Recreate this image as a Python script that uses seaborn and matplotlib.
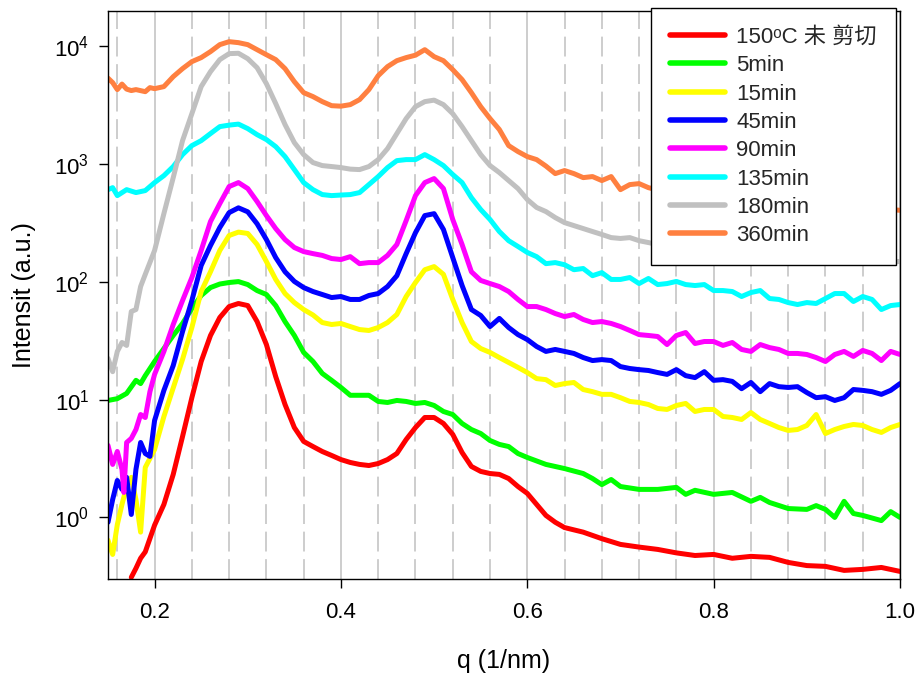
import numpy as np
import pandas as pd
import matplotlib
matplotlib.use("Agg")
import matplotlib.pyplot as plt
import seaborn as sns
from matplotlib.ticker import FixedLocator, MultipleLocator, LogLocator, NullLocator

# ---------------- data ----------------
labels = ["150\u1d52C 未 剪切", "5min", "15min", "45min", "90min", "135min", "180min", "360min"]
colors = ["#ff0000", "#00ff00", "#ffff00", "#0000ff", "#ff00ff", "#00ffff", "#c0c0c0", "#ff8040"]

q_red = [0.175, 0.18, 0.185, 0.19, 0.20, 0.21, 0.22, 0.23, 0.24, 0.25, 0.26, 0.27, 0.28, 0.29,
         0.30, 0.31, 0.32, 0.33, 0.34, 0.35, 0.36, 0.37, 0.38, 0.39, 0.40, 0.41, 0.42, 0.43, 0.44,
         0.45, 0.46, 0.47, 0.48, 0.49, 0.50, 0.51, 0.52, 0.53, 0.54, 0.55, 0.56, 0.57, 0.58, 0.59,
         0.60, 0.61, 0.62, 0.63, 0.64, 0.66, 0.68, 0.70, 0.72, 0.74, 0.76, 0.78, 0.80, 0.82, 0.84,
         0.86, 0.88, 0.90, 0.92, 0.94, 0.96, 0.98, 1.00]
i_red = [0.31, 0.37, 0.45, 0.51, 0.86, 1.29, 2.32, 4.87, 10.4, 21.1, 35.1, 49.9, 61.8, 65.6,
         63, 46.1, 29.4, 15.7, 9.1, 5.8, 4.42, 4.0, 3.63, 3.36, 3.1, 2.93, 2.82, 2.76, 2.87,
         3.1, 3.49, 4.59, 5.8, 7.06, 7.06, 6.28, 5.07, 3.56, 2.71, 2.46, 2.36, 2.32, 2.14, 1.83,
         1.6, 1.29, 1.04, 0.91, 0.82, 0.75, 0.66, 0.59, 0.56, 0.535, 0.50, 0.475, 0.485, 0.45, 0.467,
         0.458, 0.415, 0.39, 0.384, 0.355, 0.362, 0.376, 0.348]

q_green = [0.15, 0.16, 0.17, 0.18, 0.185, 0.19, 0.20, 0.21, 0.22, 0.23, 0.24, 0.25, 0.26, 0.27,
           0.28, 0.29, 0.30, 0.31, 0.32, 0.33, 0.34, 0.35, 0.36, 0.37, 0.38, 0.39, 0.40, 0.41,
           0.42, 0.43, 0.44, 0.45, 0.46, 0.47, 0.48, 0.49, 0.50, 0.51, 0.52, 0.53, 0.54, 0.55,
           0.56, 0.57, 0.58, 0.59, 0.60, 0.62, 0.64, 0.66, 0.67, 0.68, 0.69, 0.70, 0.72, 0.74,
           0.76, 0.77, 0.78, 0.80, 0.82, 0.84, 0.85, 0.86, 0.88, 0.90, 0.91, 0.92, 0.93, 0.94,
           0.95, 0.96, 0.98, 0.99, 1.00]
i_green = [9.85, 10.2, 11.3, 14.6, 13.7, 16.0, 21.1, 27.2, 35.1, 44.4, 59.4, 76.7, 89.6, 96,
           98.9, 100.7, 95, 84.5, 78.2, 63, 46, 35.1, 25.2, 21.1, 16.7, 14.6, 12.7, 10.9,
           10.9, 10.9, 9.66, 9.47, 9.85, 9.66, 9.29, 9.47, 8.93, 7.94, 7.48, 6.28, 5.58, 5.16,
           4.5, 4.17, 4.0, 3.49, 3.23, 2.82, 2.6, 2.36, 2.14, 1.9, 2.1, 1.83, 1.73, 1.73,
           1.80, 1.57, 1.7, 1.57, 1.63, 1.37, 1.48, 1.34, 1.19, 1.17, 1.26, 1.17, 1.0, 1.37,
           1.08, 1.04, 0.94, 1.12, 1.0]

q_yellow = [0.15, 0.155, 0.16, 0.165, 0.17, 0.175, 0.18, 0.185, 0.19,
            0.20, 0.21, 0.22, 0.23, 0.24, 0.25, 0.26, 0.27, 0.28, 0.29,
            0.30, 0.31, 0.32, 0.33, 0.34, 0.35, 0.36, 0.37, 0.38, 0.39,
            0.40, 0.41, 0.42, 0.43, 0.44, 0.45, 0.46, 0.47, 0.48, 0.49,
            0.50, 0.51, 0.52, 0.53, 0.54, 0.55, 0.56, 0.57, 0.58, 0.59,
            0.60, 0.61, 0.62, 0.63, 0.64, 0.65, 0.66, 0.67, 0.68, 0.69,
            0.70, 0.71, 0.72, 0.73, 0.74, 0.75, 0.76, 0.77, 0.78, 0.79,
            0.80, 0.81, 0.82, 0.83, 0.84, 0.85, 0.86, 0.87, 0.88, 0.89,
            0.90, 0.91, 0.92, 0.93, 0.94, 0.95, 0.96, 0.97, 0.98, 0.99, 1.00]
i_yellow = [0.64, 0.485, 0.87, 1.29, 1.83, 2.19, 1.42, 0.75, 2.66,
            3.78, 7.2, 12.6, 22, 41, 82.9, 122, 185, 248, 265,
            258, 208, 149, 105, 79.7, 66.8, 58.3, 52.4, 45.2, 43.5,
            44.4, 41.8, 39.4, 38.7, 41, 45.2, 52.9, 75.2, 98.9, 127,
            135, 116, 71, 45.2, 31.2, 27.2, 25.2, 22.8, 20.7, 18.8,
            17.0, 15.1, 14.8, 13.2, 13.7, 14.0, 12.2, 11.7, 11.1, 11.1,
            10.4, 9.66, 9.47, 9.1, 8.42, 8.26, 8.93, 9.29, 7.94, 8.26,
            8.26, 7.2, 7.06, 6.79, 7.78, 6.79, 6.28, 5.8, 5.48, 5.58,
            6.04, 7.48, 5.16, 5.58, 5.92, 6.16, 6.04, 5.58, 5.27, 5.8, 6.16]

q_blue = [0.15, 0.155, 0.16, 0.165, 0.17, 0.175, 0.18, 0.185, 0.19, 0.195,
          0.20, 0.21, 0.22, 0.23, 0.24, 0.25, 0.26, 0.27, 0.28, 0.29,
          0.30, 0.31, 0.32, 0.33, 0.34, 0.35, 0.36, 0.37, 0.38, 0.39,
          0.40, 0.41, 0.42, 0.43, 0.44, 0.45, 0.46, 0.47, 0.48, 0.49,
          0.50, 0.51, 0.52, 0.53, 0.54, 0.55, 0.56, 0.57, 0.58, 0.59,
          0.60, 0.61, 0.62, 0.63, 0.64, 0.65, 0.66, 0.67, 0.68, 0.69,
          0.70, 0.71, 0.72, 0.73, 0.74, 0.75, 0.76, 0.77, 0.78, 0.79,
          0.80, 0.81, 0.82, 0.83, 0.84, 0.85, 0.86, 0.87, 0.88, 0.89,
          0.90, 0.91, 0.92, 0.93, 0.94, 0.95, 0.96, 0.97, 0.98, 0.99, 1.00]
i_blue = [0.91, 1.42, 2.06, 1.73, 2.19, 1.06, 2.56, 4.33, 3.49, 3.3,
          6.66, 12.0, 19.5, 37.9, 69.5, 138, 204, 290, 388, 426,
          394, 312, 229, 161, 122, 101, 89.6, 82.9, 78.2, 73.7,
          75.2, 71, 71, 76.7, 79.7, 91.4, 113, 174, 262, 366,
          380, 279, 161, 93.3, 58.3, 51.9, 41.8, 49, 41, 35.7,
          32.4, 28.3, 25.7, 26.7, 25.7, 24.7, 22.8, 21.5, 21.9, 21.5,
          19.1, 18.4, 18.0, 17.7, 17.0, 16.4, 18.0, 16.0, 15.4, 17.3,
          14.6, 14.8, 14.3, 12.4, 14.0, 11.7, 13.7, 12.9, 12.7, 12.9,
          11.5, 10.4, 10.6, 9.85, 10.4, 12.2, 12.0, 11.7, 11.1, 12.0, 13.7]

q_magenta = [0.15, 0.155, 0.16, 0.165, 0.167, 0.17, 0.175, 0.18, 0.185, 0.19, 0.195,
             0.20, 0.21, 0.22, 0.23, 0.24, 0.25, 0.26, 0.27, 0.28, 0.29,
             0.30, 0.31, 0.32, 0.33, 0.34, 0.35, 0.36, 0.37, 0.38, 0.39,
             0.40, 0.41, 0.42, 0.43, 0.44, 0.45, 0.46, 0.47, 0.48, 0.49,
             0.50, 0.51, 0.52, 0.53, 0.54, 0.55, 0.56, 0.57, 0.58, 0.59,
             0.60, 0.61, 0.62, 0.63, 0.64, 0.65, 0.66, 0.67, 0.68, 0.69,
             0.70, 0.71, 0.72, 0.73, 0.74, 0.75, 0.76, 0.77, 0.78, 0.79,
             0.80, 0.81, 0.82, 0.83, 0.84, 0.85, 0.86, 0.87, 0.88, 0.89,
             0.90, 0.91, 0.92, 0.93, 0.94, 0.95, 0.96, 0.97, 0.98, 0.99, 1.00]
i_magenta = [4.09, 2.82, 3.63, 2.56, 1.63, 4.33, 4.69, 5.58, 7.48, 7.06, 11.7,
             16.4, 25.7, 43.5, 69.5, 109, 185, 326, 463, 646, 698,
             621, 482, 366, 284, 229, 196, 181, 174, 168, 158,
             155, 164, 143, 146, 146, 168, 208, 332, 541, 698,
             755, 621, 339, 208, 122, 103, 96.9, 91.4, 82.9, 71,
             61.8, 61.8, 58.3, 53.9, 50.8, 52.9, 48, 45.2, 46.1, 44.4,
             41.8, 38.7, 35.7, 35.1, 34.4, 29.4, 35.1, 37.2, 30, 31.2,
             31.2, 28.9, 30.6, 26.7, 25.7, 29.4, 27.7, 26.7, 24.7, 24.7,
             24.2, 22.8, 21.1, 24.2, 25.7, 23.3, 26.2, 24.7, 21.5, 25.7, 24.2]

q_cyan = [0.15, 0.155, 0.16, 0.17, 0.18, 0.19,
          0.20, 0.21, 0.22, 0.23, 0.24, 0.25, 0.26, 0.27, 0.28, 0.29,
          0.30, 0.31, 0.32, 0.33, 0.34, 0.35, 0.36, 0.37, 0.38, 0.39,
          0.40, 0.41, 0.42, 0.43, 0.44, 0.45, 0.46, 0.47, 0.48, 0.49,
          0.50, 0.51, 0.52, 0.53, 0.54, 0.55, 0.56, 0.57, 0.58, 0.59,
          0.60, 0.61, 0.62, 0.63, 0.64, 0.65, 0.66, 0.67, 0.68, 0.69,
          0.70, 0.71, 0.72, 0.73, 0.74, 0.75, 0.76, 0.77, 0.78, 0.79,
          0.80, 0.81, 0.82, 0.83, 0.84, 0.85, 0.86, 0.87, 0.88, 0.89,
          0.90, 0.91, 0.92, 0.93, 0.94, 0.95, 0.96, 0.97, 0.98, 0.99, 1.00]
i_cyan = [608, 632, 541, 608, 574, 597,
          698, 800, 955, 1206, 1438, 1585, 1820, 2085, 2147, 2190,
          2005, 1783, 1618, 1410, 1160, 900, 698, 608, 552, 541,
          547, 552, 574, 671, 785, 936, 1072, 1094, 1094, 1206,
          1094, 973, 817, 698, 520, 412, 339, 268, 224, 200,
          178, 164, 143, 146, 140, 127, 130, 113, 120, 105,
          105, 109, 96.9, 107, 95, 96.9, 101, 95, 93.2, 95,
          84.5, 84.5, 82.9, 75.2, 81.3, 84.5, 72.3, 71, 66.8, 64.3,
          66.8, 65.6, 72.3, 79.7, 79.7, 68.2, 75.2, 71, 58.3, 63, 64.3]

q_gray = [0.15, 0.155, 0.16, 0.165, 0.17, 0.175, 0.18, 0.185, 0.19,
          0.20, 0.21, 0.22, 0.23, 0.24, 0.25, 0.26, 0.27, 0.28, 0.29,
          0.30, 0.31, 0.32, 0.33, 0.34, 0.35, 0.36, 0.37, 0.38, 0.39,
          0.40, 0.41, 0.42, 0.43, 0.44, 0.45, 0.46, 0.47, 0.48, 0.49,
          0.50, 0.51, 0.52, 0.53, 0.54, 0.55, 0.56, 0.57, 0.58, 0.59,
          0.60, 0.61, 0.62, 0.63, 0.64, 0.65, 0.66, 0.67, 0.68, 0.69,
          0.70, 0.71, 0.72, 0.73, 0.74, 0.78, 0.82, 0.86, 0.90, 0.94, 1.00]
i_gray = [22.4, 17.3, 25.7, 30.6, 28.9, 56.1, 58.3, 91.4, 116,
          185, 381, 769, 1585, 2685, 4560, 6110, 7730, 8690, 8750,
          7870, 6600, 4830, 3270, 2170, 1525, 1206, 1032, 973, 955,
          936, 908, 900, 955, 1094, 1356, 1820, 2440, 3080, 3400,
          3500, 3205, 2685, 2085, 1585, 1206, 973, 849, 726, 621,
          501, 429, 396, 352, 319, 301, 284, 268, 253, 238,
          234, 238, 224, 216, 208, 188, 178, 168, 161, 155, 149]

q_orange = [0.15, 0.155, 0.16, 0.165, 0.17, 0.175, 0.18, 0.19, 0.195,
            0.20, 0.21, 0.22, 0.23, 0.24, 0.25, 0.26, 0.27, 0.28, 0.29,
            0.30, 0.31, 0.32, 0.33, 0.34, 0.35, 0.36, 0.37, 0.38, 0.39,
            0.40, 0.41, 0.42, 0.43, 0.44, 0.45, 0.46, 0.47, 0.48, 0.49,
            0.50, 0.51, 0.52, 0.53, 0.54, 0.55, 0.56, 0.57, 0.58, 0.59,
            0.60, 0.61, 0.62, 0.63, 0.64, 0.65, 0.66, 0.67, 0.68, 0.69,
            0.70, 0.71, 0.72, 0.73, 0.76, 0.80, 0.84, 0.88, 0.92, 0.96, 1.00]
i_orange = [5380, 4930, 4300, 4790, 4340, 4220, 4300, 4130, 4470,
            4380, 4560, 5540, 6480, 7430, 8040, 9040, 10360, 10980, 10770,
            10360, 9390, 8510, 7730, 6480, 5020, 4050, 3750, 3400, 3140,
            3110, 3205, 3535, 4300, 5650, 6740, 7570, 8040, 8430, 9390,
            8190, 7570, 6350, 5230, 4050, 3080, 2440, 1970, 1438, 1280,
            1160, 1094, 964, 832, 883, 832, 769, 785, 726, 785,
            608, 671, 684, 632, 552, 520, 501, 472, 454, 429, 406]

x_ticks = [0.2, 0.4, 0.6, 0.8, 1.0]

series_q = [q_red, q_green, q_yellow, q_blue, q_magenta, q_cyan, q_gray, q_orange]
series_i = [i_red, i_green, i_yellow, i_blue, i_magenta, i_cyan, i_gray, i_orange]

frames = []
for lab, qq, ii in zip(labels, series_q, series_i):
    frames.append(pd.DataFrame({"q": qq, "I": ii, "sample": lab}))
df = pd.concat(frames, ignore_index=True)

# ---------------- style ----------------
sns.set_theme(style="white")
plt.rcParams["font.family"] = ["Liberation Sans", "DejaVu Sans", "Noto Sans CJK SC"]
plt.rcParams["mathtext.fontset"] = "custom"
plt.rcParams["mathtext.rm"] = "Liberation Sans"
plt.rcParams["mathtext.it"] = "Liberation Sans:italic"
plt.rcParams["mathtext.bf"] = "Liberation Sans:bold"
plt.rcParams["axes.unicode_minus"] = False

W, H = 919, 677
fig = plt.figure(figsize=(W / 100, H / 100), dpi=100)
ax = fig.add_axes([108 / W, 1 - 579 / H, (900 - 108) / W, (579 - 11) / H])

sns.lineplot(data=df, x="q", y="I", hue="sample", hue_order=labels, palette=colors,
             estimator=None, sort=True, linewidth=3.6, ax=ax)

ax.set_yscale("log")
ax.set_xlim(0.15, 1.0)
ax.set_ylim(0.3, 2.0e4)

ax.xaxis.set_major_locator(FixedLocator(x_ticks))
ax.xaxis.set_minor_locator(MultipleLocator(0.04))
ax.yaxis.set_major_locator(LogLocator(base=10, numticks=10))
ax.yaxis.set_minor_locator(NullLocator())

ax.set_axisbelow(True)
ax.grid(True, which="major", axis="x", color="#c0c0c0", linewidth=1.1, linestyle="-")
ax.grid(True, which="minor", axis="x", color="#c0c0c0", linewidth=1.1, linestyle=(0, (13, 5)))
ax.grid(False, axis="y", which="both")

ax.tick_params(which="major", direction="out", length=6.5, width=1, color="black",
               labelsize=16, pad=7, bottom=True, left=True, top=False, right=False,
               labelcolor="black")
ax.tick_params(axis="x", which="major", pad=10)
ax.tick_params(which="minor", length=0)

for s in ax.spines.values():
    s.set_color("black")
    s.set_linewidth(1.0)

ax.set_xlabel("q (1/nm)", fontsize=18, color="black", labelpad=19)
ax.set_ylabel("Intensit (a.u.)", fontsize=18, color="black", labelpad=13)

leg = ax.legend(loc="upper right", bbox_to_anchor=(896 / W, 1 - 8 / H),
                bbox_transform=fig.transFigure, borderaxespad=0, fontsize=16,
                frameon=True, fancybox=False, framealpha=1, edgecolor="black",
                handlelength=2.5, handletextpad=0.5, labelspacing=0.33, borderpad=0.85,
                title=None)
leg.get_frame().set_linewidth(1.0)
for line in leg.get_lines():
    line.set_linewidth(4.0)
    line.set_solid_capstyle("round")
leg.set_zorder(10)

fig.savefig("out.png", dpi=100)
